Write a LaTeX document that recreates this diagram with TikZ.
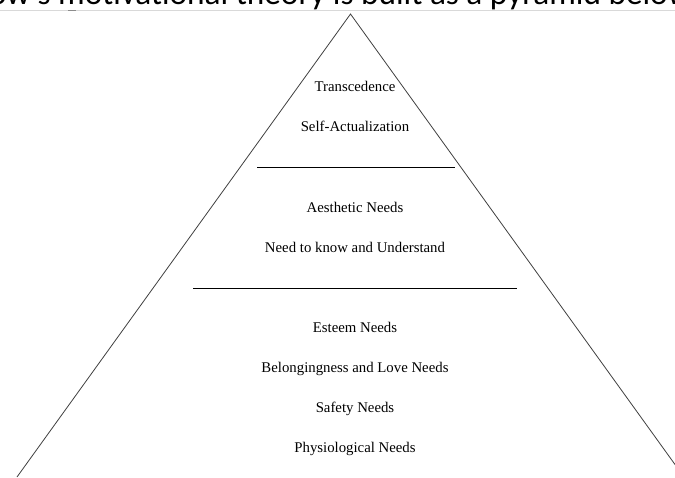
\documentclass[tikz,border=0pt]{standalone}
\usepackage{fontspec}
\setmainfont{Liberation Serif}
\newfontfamily\hdrfont{Carlito}
\definecolor{sideline}{HTML}{404040}
\definecolor{rulegray}{HTML}{D9D9D9}
\definecolor{markgray}{HTML}{8C8C8C}
\tikzset{
  level/.style={anchor=base, inner sep=0pt, font=\fontsize{14.8}{17}\selectfont},
  side/.style={draw=sideline, line width=0.8pt},
  sep/.style={draw=black, line width=0.9pt},
}
\begin{document}
\begin{tikzpicture}[x=1pt,y=-1pt]
\useasboundingbox (0,0) rectangle (675,477);
\clip (0,0) rectangle (675,477);
\fill[white] (0,0) rectangle (675,477);
% header (cut off at top)
\node[anchor=base west, inner sep=0pt, font=\hdrfont\fontsize{33.3}{38}\selectfont] (hdr) at (58,4.8)
  {\llap{Maslow's }motivational theory is built as a pyramid below};
\coordinate (rl) at (0,10.7);
\coordinate (rr) at (675,10.7);
\draw[rulegray, line width=0.8pt] (rl) -- (rr);
\coordinate (ml) at (68,10.6);
\coordinate (mr) at (76,10.6);
\draw[markgray, line width=1pt] (ml) -- (mr);
% pyramid
\coordinate (apex) at (350.5,14);
\coordinate (lf) at (17,477);
\coordinate (rf) at (684,477);
\draw[side] (lf) -- (apex) -- (rf);
\coordinate (s1l) at (257,167.3);
\coordinate (s1r) at (455,167.3);
\coordinate (s2l) at (193,288.3);
\coordinate (s2r) at (517,288.3);
\draw[sep] (s1l) -- (s1r);
\draw[sep] (s2l) -- (s2r);
% labels
\node[level] (t1) at (355,91) {Transcedence};
\node[level] (t2) at (355,131.5) {Self-Actualization};
\node[level] (t3) at (355,212.2) {Aesthetic Needs};
\node[level] (t4) at (355,252.3) {Need to know and Understand};
\node[level] (t5) at (355,332.3) {Esteem Needs};
\node[level] (t6) at (355,372.5) {Belongingness and Love Needs};
\node[level] (t7) at (355,412.7) {Safety Needs};
\node[level] (t8) at (355,452.7) {Physiological Needs};
\end{tikzpicture}
\end{document}
